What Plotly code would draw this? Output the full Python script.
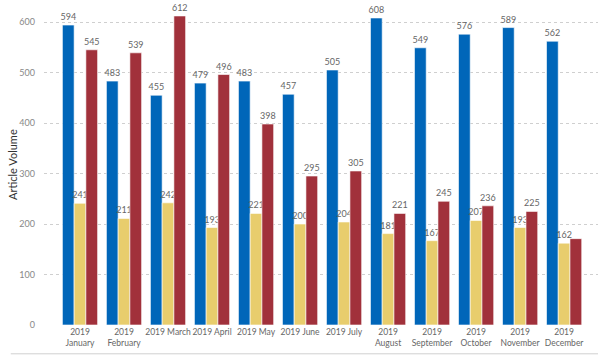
import plotly.graph_objects as go

months = ["2019<br>January", "2019<br>February", "2019 March", "2019 April", "2019 May",
          "2019 June", "2019 July", "2019<br>August", "2019<br>September", "2019<br>October",
          "2019<br>November", "2019<br>December"]
blue_vals = [594, 483, 455, 479, 483, 457, 505, 608, 549, 576, 589, 562]
yellow_vals = [241, 211, 242, 193, 221, 200, 204, 181, 167, 207, 193, 162]
red_vals = [545, 539, 612, 496, 398, 295, 305, 221, 245, 236, 225, 171]
red_labels = [str(v) for v in red_vals[:-1]] + [""]

FONT = "Lato, Segoe UI, sans-serif"
x = list(range(len(months)))
fig = go.Figure()
common = dict(textposition="outside", cliponaxis=False, constraintext="none",
              textfont=dict(size=9, color="#666666", family=FONT),
              marker_line=dict(width=1, color="rgba(255,255,255,0.6)"), hoverinfo="skip")
fig.add_bar(x=x, y=blue_vals, text=[str(v) for v in blue_vals], marker_color="#0066B9", **common)
fig.add_bar(x=x, y=yellow_vals, text=[str(v) for v in yellow_vals], marker_color="#E8CD6D", **common)
fig.add_bar(x=x, y=red_vals, text=red_labels, marker_color="#A1313B", **common)

fig.update_layout(
    width=602, height=358, barmode="group", bargap=0.2, bargroupgap=0,
    showlegend=False, plot_bgcolor="white", paper_bgcolor="white",
    margin=dict(l=44, r=4, t=5, b=33, autoexpand=False),
    font=dict(family=FONT, size=9, color="#666666"),
)
fig.update_xaxes(tickmode="array", tickvals=x, ticktext=months, range=[-0.818, 11.77],
                 showgrid=False, zeroline=False, showline=False, ticks="", tickangle=0,
                 automargin=False, tickfont=dict(size=8.5, color="#666666", family=FONT))
fig.update_yaxes(range=[0, 633.7], tickvals=[0, 100, 200, 300, 400, 500, 600],
                 showgrid=True, gridcolor="#CFCFCF", griddash="dot", gridwidth=1,
                 zeroline=False, showline=False, ticks="", ticklabelstandoff=8,
                 automargin=False, tickfont=dict(size=9, color="#888888", family=FONT))
fig.add_annotation(text="Article Volume", textangle=-90, xref="paper", yref="paper",
                   x=(12 - 44) / 554, y=0.5, xanchor="center", yanchor="middle", showarrow=False,
                   font=dict(size=11, color="#333333", family=FONT))
fig.add_shape(type="line", xref="paper", yref="paper", x0=-0.06, x1=1.0, y0=-0.09, y1=-0.09,
              line=dict(color="#D0D0D0", width=1))
fig.write_html("out.html", config={"displayModeBar": False},
               post_script="document.body.style.margin='0';document.body.style.overflow='hidden';")
